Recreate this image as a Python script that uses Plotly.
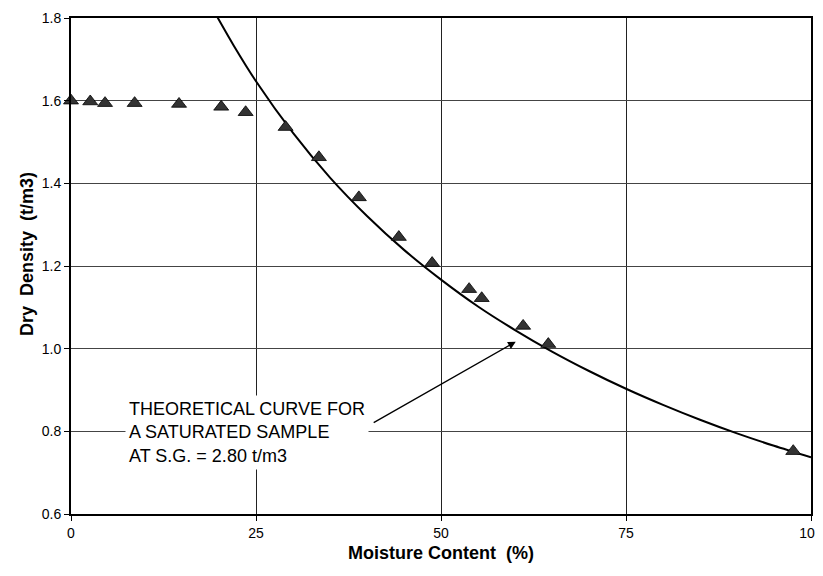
import plotly.graph_objects as go

# Measured data points (moisture content %, dry density t/m3)
moisture = [0.0, 2.6, 4.6, 8.6, 14.6, 20.3, 23.6, 29.0, 33.5, 38.9, 44.3, 48.8, 53.8, 55.5, 61.1, 64.5, 97.6]
density = [1.600, 1.598, 1.594, 1.594, 1.592, 1.585, 1.572, 1.536, 1.463, 1.366, 1.270, 1.207, 1.144, 1.122, 1.055, 1.011, 0.752]

# Theoretical saturation curve (S.G. = 2.80)
curve_w = [19.5, 22.0, 25.0, 30.0, 35.0, 40.0, 45.0, 50.0, 55.0, 60.0, 65.0, 70.0, 75.0, 80.0, 85.0, 90.0, 95.0, 100.0]
curve_d = [1.811, 1.733, 1.647, 1.522, 1.414, 1.321, 1.239, 1.167, 1.102, 1.045, 0.993, 0.946, 0.903, 0.864, 0.828, 0.795, 0.765, 0.737]

x_ticks = [0, 25, 50, 75, 100]
y_ticks = [0.6, 0.8, 1.0, 1.2, 1.4, 1.6, 1.8]
y_tick_labels = ["0.6", "0.8", "1.0", "1.2", "1.4", "1.6", "1.8"]

FONT = "Liberation Sans, Arial, sans-serif"

fig = go.Figure()
fig.add_trace(go.Scatter(
    x=curve_w, y=curve_d, mode="lines", line=dict(color="black", width=2, shape="spline", smoothing=0.8),
    hoverinfo="skip", showlegend=False))
fig.add_trace(go.Scatter(
    x=moisture, y=density, mode="markers",
    marker=dict(symbol="triangle-up", size=13, color="#333333", line=dict(color="black", width=0.8)),
    showlegend=False, cliponaxis=False))

fig.update_layout(
    template="none",
    width=815, height=560,
    margin=dict(l=63, r=12, t=10, b=54),
    plot_bgcolor="white", paper_bgcolor="white",
    font=dict(family=FONT, size=14, color="black"),
    xaxis=dict(range=[0, 100], tickvals=x_ticks, showgrid=True, gridcolor="#222222", gridwidth=1,
               zeroline=False, showline=True, linecolor="black", linewidth=2, mirror=True,
               ticks="outside", ticklen=5, tickcolor="black", tickfont=dict(size=14), automargin=False,
               ticklabeloverflow="allow"),
    yaxis=dict(range=[0.6, 1.8], tickvals=y_ticks, ticktext=y_tick_labels, showgrid=True,
               gridcolor="#444444", gridwidth=1, zeroline=False, showline=True, linecolor="black",
               linewidth=2, mirror=True, ticks="outside", ticklen=5, tickcolor="black",
               tickfont=dict(size=14), automargin=False),
    annotations=[
        dict(text="<b>Moisture Content  (%)</b>", xref="paper", yref="paper", x=0.5, y=-0.0787,
             xanchor="center", yanchor="middle", showarrow=False, font=dict(size=18)),
        dict(text="<b>Dry  Density  (t/m3)</b>", xref="paper", yref="paper", x=-0.0595, y=0.524,
             xanchor="center", yanchor="middle", showarrow=False, textangle=-90, font=dict(size=18)),
        dict(text="", x=60.1, y=1.017, ax=40.7, ay=0.819, axref="x", ayref="y", xref="x", yref="y",
             showarrow=True, arrowhead=2, arrowsize=1.2, arrowwidth=1.3, arrowcolor="black"),
        dict(text="THEORETICAL CURVE FOR<br>A SATURATED SAMPLE<br>AT S.G. = 2.80 t/m3",
             x=23.8, y=0.796, xref="x", yref="y", showarrow=False, align="left",
             xanchor="center", yanchor="middle", bgcolor="white", borderpad=3,
             font=dict(size=18)),
    ],
)

fig.write_html("out.html")
